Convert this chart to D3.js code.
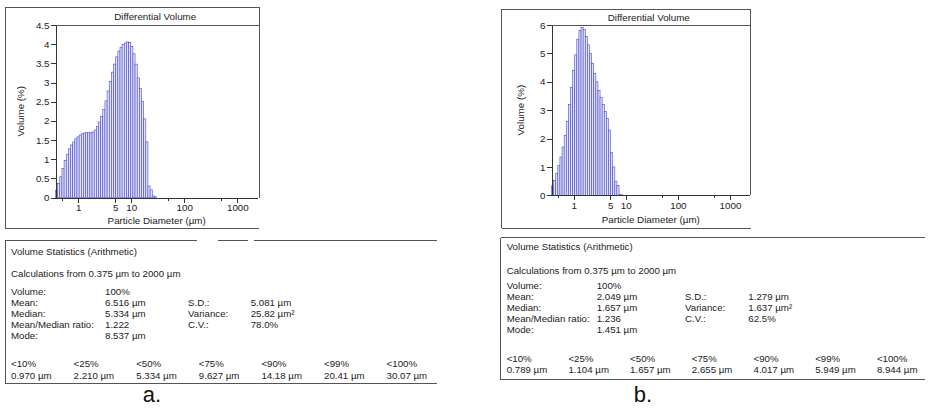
<!DOCTYPE html>
<html><head><meta charset="utf-8">
<script src="https://cdn.jsdelivr.net/npm/d3@7"></script>
<style>
html,body{margin:0;padding:0;background:#fff;}
svg text{font-family:"Liberation Sans",Arial,Helvetica,sans-serif;}
</style>
</head><body>
<svg id="c" width="932" height="409"></svg>
<script>
// LS channel edges (µm)
const edges = [0.375,0.4117,0.4519,0.4961,0.5446,0.5979,0.6564,0.7205,0.7910,0.8683,
  0.9532,1.0464,1.1488,1.2611,1.3844,1.5198,1.6684,1.8316,2.0107,2.2073,
  2.4231,2.6601,2.9202,3.2058,3.5192,3.8633,4.241,4.656,5.111,5.611,
  6.160,6.762,7.423,8.149,8.944,9.819,10.78,11.83,12.99,14.26,
  15.65,17.18,18.86,20.71,22.73,24.95,27.39,30.07];
// Differential volume (%) per channel
const volA = [0.19,0.37,0.54,0.76,0.97,1.13,1.27,1.37,1.45,1.53,
  1.58,1.63,1.66,1.68,1.69,1.69,1.69,1.71,1.76,1.85,
  1.97,2.12,2.30,2.52,2.78,3.03,3.27,3.48,3.67,3.82,
  3.92,3.99,4.03,4.06,4.04,3.94,3.75,3.48,3.12,2.85,
  2.50,2.05,1.45,0.30,0.20,0.04,0.02];
const volB = [0.33,0.52,0.78,1.05,1.35,1.70,2.10,2.60,3.20,3.80,
  4.40,4.95,5.50,5.80,5.92,5.85,5.60,5.30,5.00,4.65,
  4.30,4.00,3.70,3.45,3.20,2.95,2.70,2.30,1.50,1.00,
  0.50,0.35,0.03,0.01];
const yTicksA = [0,0.5,1,1.5,2,2.5,3,3.5,4,4.5];
const yTicksB = [0,1,2,3,4,5,6];
const xMajorTicks = [1,5,10,100,1000];
const xMinorTicks = [0.5,50,500];
const chartTitle = "Differential Volume";
const yTitle = "Volume (%)";
const xTitle = "Particle Diameter (µm)";
const statsTitle = "Volume Statistics (Arithmetic)";
const calcLine = "Calculations from 0.375 µm to 2000 µm";
const statsA = [["Volume:","100%","",""],["Mean:","6.516 µm","S.D.:","5.081 µm"],
  ["Median:","5.334 µm","Variance:","25.82 µm²"],["Mean/Median ratio:","1.222","C.V.:","78.0%"],
  ["Mode:","8.537 µm","",""]];
const statsB = [["Volume:","100%","",""],["Mean:","2.049 µm","S.D.:","1.279 µm"],
  ["Median:","1.657 µm","Variance:","1.637 µm²"],["Mean/Median ratio:","1.236","C.V.:","62.5%"],
  ["Mode:","1.451 µm","",""]];
const pctLabels = ["<10%","<25%","<50%","<75%","<90%","<99%","<100%"];
const pctA = ["0.970 µm","2.210 µm","5.334 µm","9.627 µm","14.18 µm","20.41 µm","30.07 µm"];
const pctB = ["0.789 µm","1.104 µm","1.657 µm","2.655 µm","4.017 µm","5.949 µm","8.944 µm"];
const panelLabels = ["a.","b."];

const svg = d3.select("#c");
const ink = "#222";
const lineC = "#555";
const FS = 9.8;

function line(g,x1,y1,x2,y2,c){g.append("line").attr("x1",x1).attr("y1",y1).attr("x2",x2).attr("y2",y2)
  .attr("stroke",c||lineC).attr("stroke-width",1).attr("shape-rendering","crispEdges");}

function chart(o){
  const g = svg.append("g");
  const x = d3.scaleLog().domain([0.375,2400]).range([o.x0,o.x1]);
  const y = d3.scaleLinear().domain([0,o.ymax]).range([o.y0,o.y1]);
  // frame
  line(g,o.fx0,o.fy0,o.fx0,o.fy1);
  line(g,o.fx0,o.fy0,o.fx1,o.fy0);
  line(g,o.fx0,o.fy1,o.fx1,o.fy1);
  line(g,o.fx1,o.fy0,o.fx1,o.y0);
  line(g,o.x0,o.y1,o.fx1,o.y1);
  g.append("text").attr("x",o.tcx).attr("y",(o.fy0+o.y1)/2+3.5).attr("text-anchor","middle")
    .attr("font-size",FS).attr("fill",ink).text(chartTitle);
  // bars
  g.append("g").selectAll("rect").data(o.vals).join("rect")
    .attr("x",(d,i)=>x(edges[i])).attr("width",(d,i)=>x(edges[i+1])-x(edges[i]))
    .attr("y",d=>y(d)).attr("height",d=>y(0)-y(d))
    .attr("fill","#e4e4f9").attr("stroke","#4646cc").attr("stroke-width",0.6);
  // axes
  const ya = g.append("g").attr("transform",`translate(${o.x0},0)`)
    .call(d3.axisLeft(y).tickValues(o.yticks).tickSize(5).tickSizeOuter(0).tickFormat(d3.format("")));
  const xa = g.append("g").attr("transform",`translate(0,${o.y0})`)
    .call(d3.axisBottom(x).tickValues(xMajorTicks).tickSize(5).tickSizeOuter(0).tickFormat(d=>d));
  const xm = g.append("g").attr("transform",`translate(0,${o.y0})`)
    .call(d3.axisBottom(x).tickValues(xMinorTicks).tickSize(3).tickSizeOuter(0).tickFormat(""));
  xm.select(".domain").remove();
  [ya,xa,xm].forEach(a=>{
    a.selectAll("path,line").attr("stroke","#333").attr("shape-rendering","crispEdges");
    a.selectAll("text").attr("font-size",FS).attr("fill",ink).attr("font-family",null);
  });
  ya.selectAll("text").attr("x",-6);
  xa.selectAll("text").attr("y",7);
  g.append("text").attr("transform",`translate(${o.ytx},${(o.y0+o.y1)/2}) rotate(-90)`)
    .attr("text-anchor","middle").attr("font-size",FS).attr("fill",ink).text(yTitle);
  g.append("text").attr("x",o.xtx).attr("y",o.xty).attr("text-anchor","middle")
    .attr("font-size",FS).attr("fill",ink).text(xTitle);
}

chart({vals:volA,ymax:4.5,yticks:yTicksA,x0:55.5,x1:257.5,y0:197.5,y1:25,
  fx0:5,fx1:259,fy0:7,fy1:228,ytx:24,xty:224,xtx:156.7,tcx:155.2});
chart({vals:volB,ymax:6,yticks:yTicksB,x0:551.5,x1:749.8,y0:195.3,y1:25,
  fx0:501.5,fx1:750.5,fy0:9.3,fy1:228,ytx:524,xty:222.5,xtx:650.8,tcx:648.8});

function table(o){
  const g = svg.append("g");
  o.top.forEach(s=>line(g,s[0],o.ty,s[1],o.ty));
  line(g,o.tx,o.ty,o.tx,o.by);
  line(g,o.tx,o.by,o.rx,o.by);
  const fs = 9.7;
  function t(x,y,s){
    g.append("text").attr("x",x).attr("y",y).attr("dominant-baseline","central")
      .attr("font-size",fs).attr("fill",ink).text(s);
  }
  t(o.c[0],o.y.title,statsTitle);
  t(o.c[0],o.y.calc,calcLine);
  o.stats.forEach((r,i)=>{
    const yy = o.y.row0 + i*o.y.step;
    r.forEach((s,j)=>{ if(s) t(o.c[j],yy,s); });
  });
  pctLabels.forEach((s,i)=>{
    t(o.c[0]+i*o.pstep,o.y.p1,s);
    t(o.c[0]+i*o.pstep,o.y.p2,o.pct[i]);
  });
  g.append("text").attr("x",o.lx).attr("y",o.ly).attr("text-anchor","middle")
    .attr("font-size",22).attr("fill","#111").text(o.label);
}

table({top:[[5,197],[218,248],[254,437]],tx:5,ty:240.5,by:383.5,rx:437,
  c:[11,105,188,250.7],pstep:62.6,stats:statsA,pct:pctA,
  y:{title:251.7,calc:273.3,row0:291.7,step:10.85,p1:363.5,p2:375.5},lx:152,ly:402,label:panelLabels[0]});
table({top:[[500.5,925]],tx:500.5,ty:237.5,by:379.5,rx:925,
  c:[506.7,596.7,685,748.3],pstep:61.7,stats:statsB,pct:pctB,
  y:{title:246.7,calc:270,row0:285,step:11.2,p1:358.5,p2:369.7},lx:643,ly:402,label:panelLabels[1]});
</script>
</body></html>
